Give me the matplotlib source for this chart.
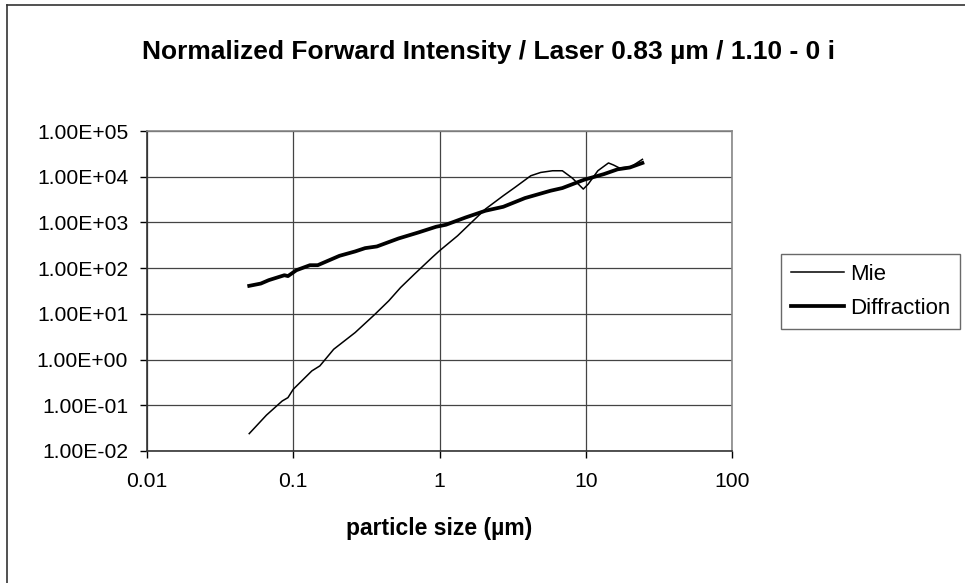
import numpy as np
import matplotlib
matplotlib.use("Agg")
import matplotlib.pyplot as plt
from matplotlib.ticker import FuncFormatter, FixedLocator, NullLocator
from matplotlib.lines import Line2D

plt.rcParams['font.family'] = ['Liberation Sans', 'DejaVu Sans']

# particle size (um) and normalized forward intensity
mie_x = [0.05, 0.0656, 0.084, 0.092, 0.1, 0.134, 0.152, 0.189, 0.265, 0.362,
         0.45, 0.542, 0.674, 0.89, 1.0, 1.33, 1.61, 2.06, 2.73, 3.28, 4.21,
         4.92, 5.93, 6.92, 8.09, 9.62, 10.4, 12.1, 14.3, 15.5, 17.0, 20.4, 24.4]
mie_y = [0.024, 0.061, 0.124, 0.147, 0.224, 0.565, 0.727, 1.68, 3.9, 9.8,
         19.3, 37.7, 74, 171, 240, 511, 920, 1960, 3840, 5840, 10500,
         12400, 13500, 13500, 9350, 5370, 6900, 13500, 20000, 18000, 15500, 16500, 24000]

diff_x = [0.05, 0.06, 0.068, 0.087, 0.092, 0.105, 0.13, 0.147, 0.207, 0.265,
          0.31, 0.373, 0.525, 0.717, 0.948, 1.107, 1.51, 2.06, 2.73, 3.84,
          5.74, 6.92, 9.75, 13.3, 16.5, 20, 24.4]
diff_y = [41, 46, 54.6, 70, 67, 90, 116, 116, 186, 232,
          274, 298, 446, 603, 804, 890, 1285, 1800, 2200, 3410,
          4930, 5650, 8590, 11400, 14500, 15900, 20000]

x_ticks = [0.01, 0.1, 1, 10, 100]
y_ticks = [1e-2, 1e-1, 1e0, 1e1, 1e2, 1e3, 1e4, 1e5]

title = "Normalized Forward Intensity / Laser 0.83 µm / 1.10 - 0 i"
xlabel = "particle size (µm)"

fig = plt.figure(figsize=(9.65, 5.83), dpi=100)
ax = fig.add_axes([147 / 965, 1 - 451 / 583, (732 - 147) / 965, (451 - 131) / 583])

ax.plot(mie_x, mie_y, color='black', lw=1.1, label='Mie')
ax.plot(diff_x, diff_y, color='black', lw=2.7, label='Diffraction')

ax.set_xscale('log')
ax.set_yscale('log')
ax.set_xlim(0.01, 100)
ax.set_ylim(1e-2, 1e5)
ax.xaxis.set_major_locator(FixedLocator(x_ticks))
ax.yaxis.set_major_locator(FixedLocator(y_ticks))
ax.xaxis.set_minor_locator(NullLocator())
ax.yaxis.set_minor_locator(NullLocator())
ax.xaxis.set_major_formatter(FuncFormatter(lambda v, p: f"{v:g}"))
ax.yaxis.set_major_formatter(FuncFormatter(lambda v, p: f"{v:.2E}"))
ax.tick_params(axis='both', direction='out', length=5, width=1, labelsize=15.2,
               color='black')
ax.tick_params(axis='y', pad=8.5)
ax.tick_params(axis='x', pad=10)

ax.grid(True, color='#444444', lw=0.9)
ax.set_axisbelow(True)
for s in ['top', 'right']:
    ax.spines[s].set_color('#888888')
    ax.spines[s].set_linewidth(1.2)
for s in ['left', 'bottom']:
    ax.spines[s].set_color('#333333')
    ax.spines[s].set_linewidth(1.2)

fig.text(488 / 965, 1 - 52 / 583, title, ha='center', va='center',
         fontsize=19, fontweight='bold')
fig.text(439 / 965, 1 - 528 / 583, xlabel, ha='center', va='center',
         fontsize=16.5, fontweight='bold')

leg = ax.legend(loc='center left', bbox_to_anchor=(781 / 965, 1 - 291.5 / 583),
                bbox_transform=fig.transFigure, fontsize=16, frameon=True,
                fancybox=False, handlelength=2.4, handletextpad=0.25,
                borderpad=0.45, labelspacing=0.6, borderaxespad=0)
leg.get_frame().set_edgecolor('#444444')
leg.get_frame().set_linewidth(1.0)

# outer chart border (only top and left visible in the picture)
fig.add_artist(Line2D([7 / 965, 7 / 965], [0, 1 - 5 / 583], color='#333333', lw=1.2))
fig.add_artist(Line2D([7 / 965, 1], [1 - 5 / 583, 1 - 5 / 583], color='#333333', lw=1.2))

fig.savefig('out.png', dpi=100)
